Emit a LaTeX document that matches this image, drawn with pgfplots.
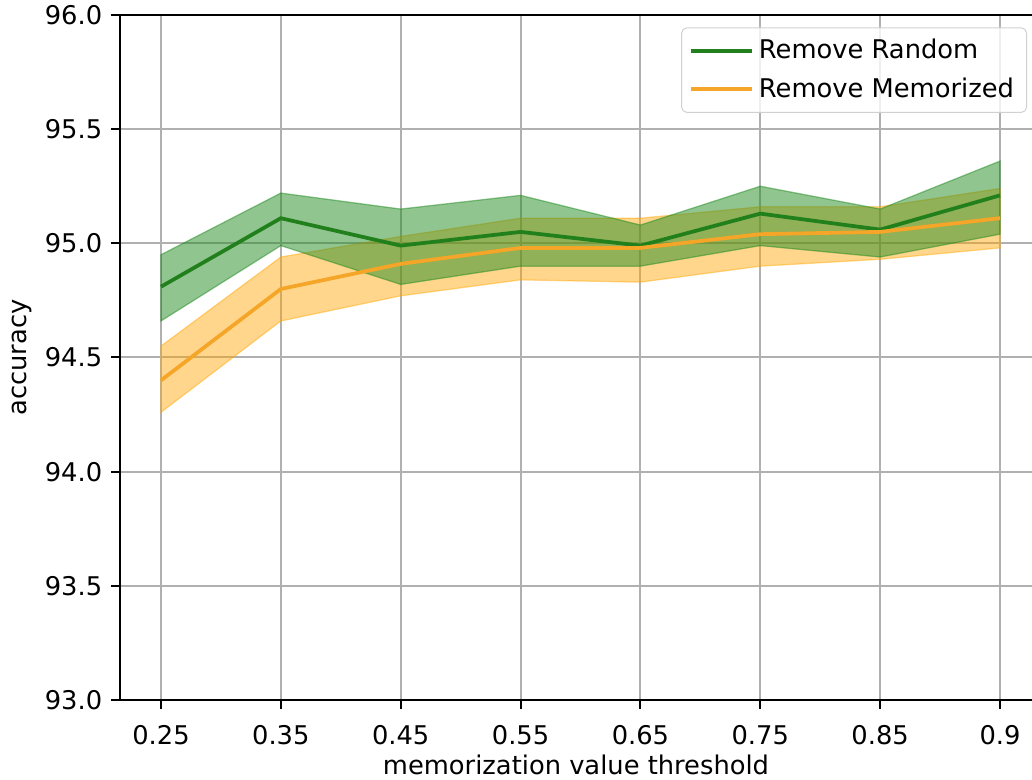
\documentclass[border=0pt]{standalone}
\usepackage{fontspec}
\setmainfont{DejaVu Sans}
\usepackage{pgfplots}
\pgfplotsset{compat=1.18}
\usepackage{pgfplotstable}
\usepgfplotslibrary{fillbetween}
\usetikzlibrary{calc}
\definecolor{mgreen}{RGB}{34,128,28}
\definecolor{morange}{RGB}{245,165,40}
\definecolor{fgreen}{RGB}{34,139,34}
\definecolor{forange}{RGB}{255,165,0}
\definecolor{gridgray}{RGB}{176,176,176}

% x index, mean, lower, upper
\pgfplotstableread{
x m lo hi
0 94.81 94.66 94.95
1 95.11 94.99 95.22
2 94.99 94.82 95.15
3 95.05 94.90 95.21
4 94.99 94.90 95.08
5 95.13 94.99 95.25
6 95.06 94.94 95.15
7 95.21 95.04 95.36
}\randomtab
\pgfplotstableread{
x m lo hi
0 94.40 94.26 94.55
1 94.80 94.66 94.94
2 94.91 94.77 95.03
3 94.98 94.84 95.11
4 94.98 94.83 95.11
5 95.04 94.90 95.16
6 95.05 94.93 95.16
7 95.11 94.98 95.24
}\memotab

\begin{document}
\fontsize{10.3pt}{12.4pt}\selectfont
\begin{tikzpicture}
\begin{axis}[
  scale only axis,
  width=364.8pt, height=274pt,
  xmin=-0.342, xmax=7.267,
  ymin=93, ymax=96,
  axis x line*=box, axis y line*=left,
  xtick pos=bottom, ytick pos=left,
  tick align=outside,
  major tick length=3.5pt,
  every tick/.style={black, line width=0.8pt},
  axis line style={black, line width=0.8pt},
  xtick={0,1,2,3,4,5,6,7},
  xticklabels={0.25,0.35,0.45,0.55,0.65,0.75,0.85,0.9},
  ytick={93,93.5,94,94.5,95,95.5,96},
  yticklabel style={/pgf/number format/.cd, fixed, fixed zerofill, precision=1},
  /pgf/number format/assume math mode=true,
  xticklabel style={yshift=-3pt},
  grid=major,
  major grid style={gridgray, line width=0.8pt},
  xlabel={memorization value threshold},
  ylabel={accuracy},
  xlabel style={yshift=3pt},
  ylabel style={yshift=-2pt},
  clip=false,
  legend cell align=left,
  legend style={at={(rel axis cs:1,1)}, anchor=north east, xshift=-2pt, yshift=-5pt,
    draw=black!18, rounded corners=2pt, fill=white, fill opacity=0.8, text opacity=1,
    inner xsep=3pt, inner ysep=2.5pt, row sep=2pt, font=\fontsize{10.3pt}{12.4pt}\selectfont},
  legend image code/.code={\draw[#1] (0pt,0pt) -- (22.4pt,0pt); \path (0pt,0pt) -- (24.4pt,0pt);},
]
\addlegendimage{mgreen, line width=1.5pt}
\addlegendentry{Remove Random}
\addlegendimage{morange, line width=1.5pt}
\addlegendentry{Remove Memorized}

\addplot[name path=rhi, draw=none, forget plot] table[x=x, y=hi] {\randomtab};
\addplot[name path=rlo, draw=none, forget plot] table[x=x, y=lo] {\randomtab};
\addplot[name path=mhi, draw=none, forget plot] table[x=x, y=hi] {\memotab};
\addplot[name path=mlo, draw=none, forget plot] table[x=x, y=lo] {\memotab};

\addplot[fill=forange, fill opacity=0.45, draw=forange, draw opacity=0.45, line width=0.5pt, forget plot] fill between[of=mhi and mlo];
\addplot[fill=fgreen, fill opacity=0.5, draw=fgreen, draw opacity=0.5, line width=0.5pt, forget plot] fill between[of=rhi and rlo];
\addplot[mgreen, line width=1.5pt, forget plot] table[x=x, y=m] {\randomtab};
\addplot[morange, line width=1.5pt, forget plot] table[x=x, y=m] {\memotab};

\coordinate (sw) at (rel axis cs:0,0);
\coordinate (ne) at (rel axis cs:1,1);
\end{axis}
\pgfresetboundingbox
\useasboundingbox ($(sw)+(-48pt,-32pt)$) rectangle ($(ne)+(0pt,6pt)$);
\end{tikzpicture}
\end{document}
